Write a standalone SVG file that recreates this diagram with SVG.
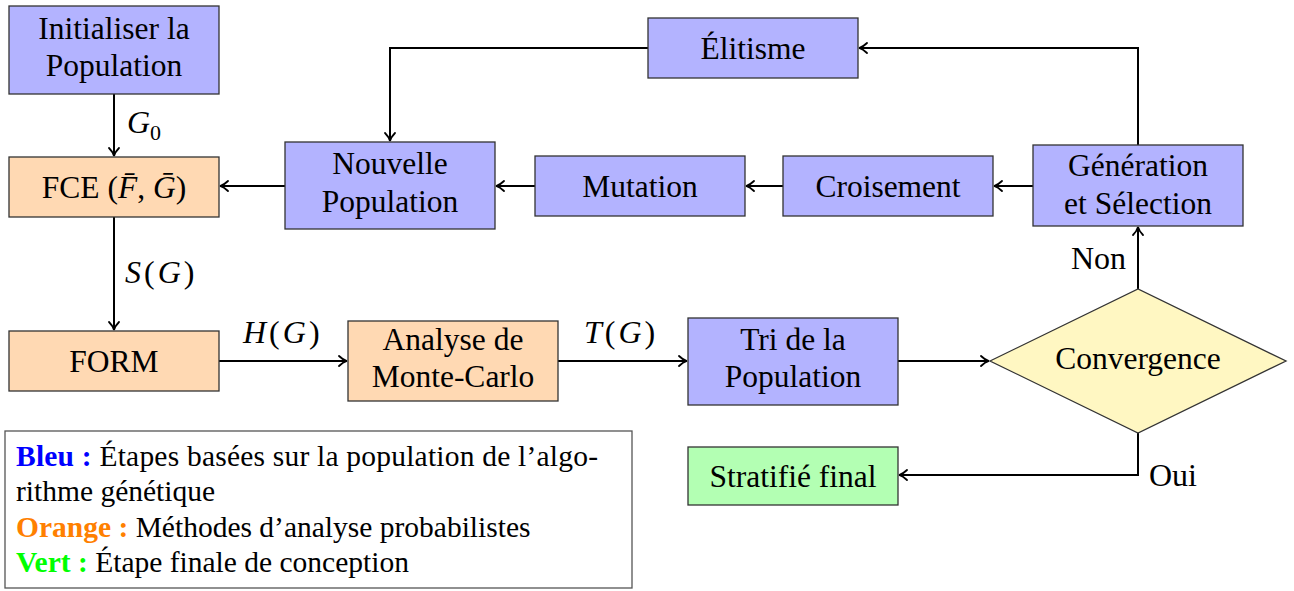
<svg xmlns="http://www.w3.org/2000/svg" width="1294" height="591" viewBox="0 0 1294 591">
<defs>
<style>
.node{stroke:#333;stroke-width:1.3}
.blue{fill:#b3b3ff}
.orange{fill:#ffd9b3}
.green{fill:#b3ffb3}
.yellow{fill:#fff7c2}
text{font-family:"Liberation Serif","Times New Roman",serif;fill:#000}
.t{font-size:31.5px;text-anchor:middle}
.lab{font-size:32px}
.math{letter-spacing:3px}
.it{font-style:italic}
.leg{font-size:29.5px}
.conn path{fill:none;stroke:#000;stroke-width:2;marker-end:url(#arr)}
</style>
<marker id="arr" markerUnits="userSpaceOnUse" markerWidth="14" markerHeight="14" viewBox="-10 -7 12 14" refX="0" refY="0" orient="auto">
<path d="M -8 -5 C -5 -2 -2 -0.5 0 0 C -2 0.5 -5 2 -8 5" fill="none" stroke="#000" stroke-width="1.8" stroke-linecap="round"/>
</marker>
</defs>
<rect width="1294" height="591" fill="#fff"/>

<g class="conn" id="connectors">
<path d="M114 94 V156"/>
<path d="M114 217 V330"/>
<path d="M219 361 H347"/>
<path d="M558 361 H687"/>
<path d="M898 361 H989"/>
<path d="M1138 289 V227"/>
<path d="M1138 431 V475 H899"/>
<path d="M1033 186 H994"/>
<path d="M783 186 H746"/>
<path d="M535 186 H496"/>
<path d="M285 186 H220"/>
<path d="M1138 145 V48 H859"/>
<path d="M648 48 H390 V141"/>
</g>

<g id="labels">
<text class="lab it" x="127" y="133">G</text><text x="150" y="140" style="font-size:22px">0</text>
<text class="lab math" x="125" y="283"><tspan class="it">S</tspan>(<tspan class="it">G</tspan>)</text>
<text class="lab math" x="243" y="343"><tspan class="it">H</tspan>(<tspan class="it">G</tspan>)</text>
<text class="lab math" x="584" y="343"><tspan class="it">T</tspan>(<tspan class="it">G</tspan>)</text>
<text class="lab" x="1126" y="269" text-anchor="end">Non</text>
<text class="lab" x="1149" y="486">Oui</text>
</g>

<g id="init">
<rect class="node blue" x="9" y="6" width="210" height="88"/>
<text class="t" x="114" y="39">Initialiser la</text>
<text class="t" x="114" y="76">Population</text>
</g>

<g id="fce">
<rect class="node orange" x="9" y="157" width="210" height="60"/>
<text class="t" x="114" y="198">FCE (<tspan class="it">F̄</tspan>, <tspan class="it">Ḡ</tspan>)</text>
</g>

<g id="form">
<rect class="node orange" x="9" y="331" width="210" height="60"/>
<text class="t" x="114" y="372">FORM</text>
</g>

<g id="montecarlo">
<rect class="node orange" x="348" y="321" width="210" height="80"/>
<text class="t" x="453" y="350">Analyse de</text>
<text class="t" x="453" y="387">Monte-Carlo</text>
</g>

<g id="tri">
<rect class="node blue" x="688" y="318" width="210" height="87"/>
<text class="t" x="793" y="350">Tri de la</text>
<text class="t" x="793" y="387">Population</text>
</g>

<g id="convergence">
<polygon class="node yellow" points="990,361 1138,289 1286,361 1138,433"/>
<text class="t" x="1138" y="369">Convergence</text>
</g>

<g id="stratifie">
<rect class="node green" x="688" y="447" width="210" height="58"/>
<text class="t" x="793" y="487">Stratifié final</text>
</g>

<g id="generation">
<rect class="node blue" x="1033" y="145" width="210" height="81"/>
<text class="t" x="1138" y="176">Génération</text>
<text class="t" x="1138" y="214">et Sélection</text>
</g>

<g id="croisement">
<rect class="node blue" x="783" y="156" width="210" height="60"/>
<text class="t" x="888" y="197">Croisement</text>
</g>

<g id="mutation">
<rect class="node blue" x="535" y="156" width="210" height="60"/>
<text class="t" x="640" y="197">Mutation</text>
</g>

<g id="nouvelle">
<rect class="node blue" x="285" y="142" width="210" height="87"/>
<text class="t" x="390" y="174">Nouvelle</text>
<text class="t" x="390" y="212">Population</text>
</g>

<g id="elitisme">
<rect class="node blue" x="648" y="18" width="210" height="60"/>
<text class="t" x="753" y="59">Élitisme</text>
</g>

<g id="legend">
<rect x="5" y="431" width="627" height="157" fill="#fff" stroke="#555" stroke-width="1.3"/>
<text class="leg" x="16" y="466" textLength="582" lengthAdjust="spacing"><tspan font-weight="bold" fill="#0000ff">Bleu :</tspan> Étapes basées sur la population de l’algo-</text>
<text class="leg" x="16" y="501">rithme génétique</text>
<text class="leg" x="16" y="537"><tspan font-weight="bold" fill="#ff8000">Orange :</tspan> Méthodes d’analyse probabilistes</text>
<text class="leg" x="16" y="572"><tspan font-weight="bold" fill="#00ff00">Vert :</tspan> Étape finale de conception</text>
</g>
</svg>
